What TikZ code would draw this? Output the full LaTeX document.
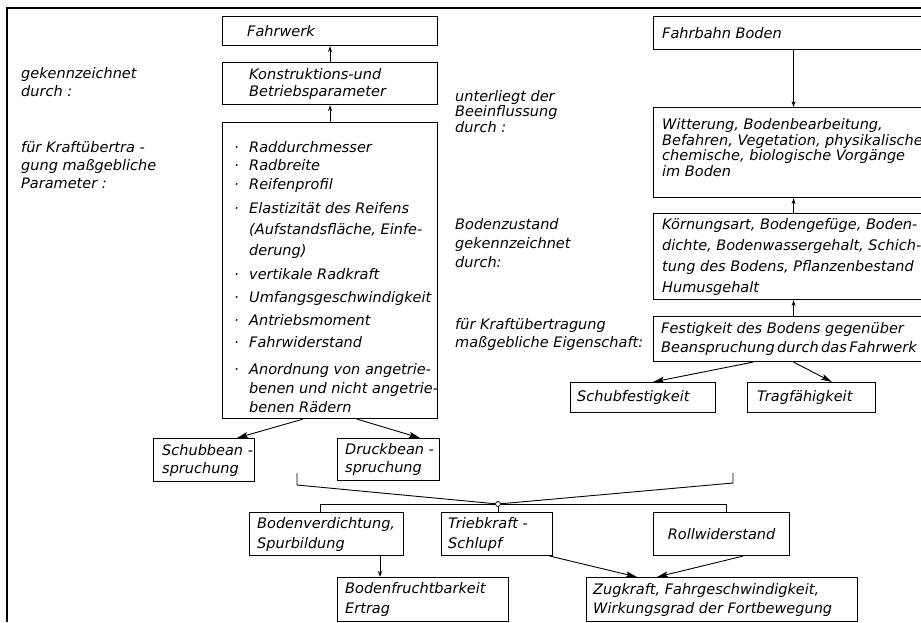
\documentclass[tikz,border=0pt]{standalone}
\usepackage{fontspec}
\setmainfont{DejaVu Sans}
\usetikzlibrary{arrows.meta,calc}
\newcommand{\schrift}[1]{\fontsize{14.5}{#1}\selectfont\itshape}
\newcommand{\pkt}{\makebox[15pt][l]{\textperiodcentered}}
\newcommand{\einr}{\hspace*{15pt}}

\begin{document}
\begin{tikzpicture}[x=1pt, y=-1pt,
  kasten/.style={draw, line width=1.1pt, inner sep=0pt, anchor=north west},
  txt/.style={font=\schrift{#1}, align=left, inner sep=0pt},
  txt/.default=17,
  linie/.style={line width=0.9pt},
  pfeil/.style={line width=0.9pt, -{Stealth[length=6pt,width=4pt]}},
  schraeg/.style={line width=0.9pt, -{Stealth[length=11pt,width=6pt,inset=2pt]}},
  knoten/.style={circle, draw, fill=white, line width=0.8pt, inner sep=0pt, minimum size=5pt},
]
\useasboundingbox (0,0) rectangle (921,622);
\clip (0,0) rectangle (921,622);
% frame (scan edge)
\draw[line width=1.6pt] (7,622) -- (7,8) -- (921,8);

% left column: Fahrwerk
\node[kasten, minimum width=215pt, minimum height=29pt] (fw) at (222,16) {};
\node[kasten, minimum width=215pt, minimum height=42pt] (kb) at (222,62) {};
\node[kasten, minimum width=215pt, minimum height=296pt] (par) at (222,122) {};
\node[txt, anchor=west] (fw-t) at ([xshift=25pt]fw.west) {Fahrwerk};
\node[txt, anchor=west] (kb-t) at ([xshift=27pt]kb.west) {Konstruktions-und\\Betriebsparameter};
\node[txt=19, anchor=north west] (par-t) at (234,141) {%
  \pkt Raddurchmesser\\[-1pt]
  \pkt Radbreite\\
  \pkt Reifenprofil\\[5pt]
  \pkt Elastizität des Reifens\\[2pt]
  \einr (Aufstandsfläche, Einfe-\\[2pt]
  \einr derung)\\[5pt]
  \pkt vertikale Radkraft\\[4pt]
  \pkt Umfangsgeschwindigkeit\\[4pt]
  \pkt Antriebsmoment\\[3pt]
  \pkt Fahrwiderstand\\[8pt]
  \pkt Anordnung von angetrie-\\
  \einr benen und nicht angetrie-\\
  \einr benen Rädern};

\node[txt=18, anchor=north west] (gek) at (21,67) {gekennzeichnet\\durch :};
\node[txt=18, anchor=north west] (fuerK) at (21,141) {für Kraftübertra -\\gung maßgebliche\\Parameter :};

% right column: Fahrbahn
\node[kasten, minimum width=280pt, minimum height=33pt] (fb) at (653,16) {};
\node[kasten, minimum width=280pt, minimum height=90pt] (wit) at (653,107) {};
\node[kasten, minimum width=280pt, minimum height=86pt] (koer) at (653,213) {};
\node[kasten, minimum width=280pt, minimum height=45pt] (fest) at (653,316) {};
\node[kasten, minimum width=145pt, minimum height=30pt] (schubf) at (570,382) {};
\node[kasten, minimum width=128pt, minimum height=30pt] (trag) at (747,382) {};
\node[txt, anchor=west] (fb-t) at ([xshift=9pt]fb.west) {Fahrbahn Boden};
\node[txt=15.5, anchor=west] (wit-t) at ([xshift=9pt,yshift=5pt]wit.west) {Witterung, Bodenbearbeitung,\\Befahren, Vegetation, physikalische\\chemische, biologische Vorgänge\\im Boden};
\node[txt=21, anchor=west] (koer-t) at ([xshift=9pt]koer.west) {Körnungsart, Bodengefüge, Boden-\\dichte, Bodenwassergehalt, Schich-\\tung des Bodens, Pflanzenbestand\\Humusgehalt};
\node[txt=19, anchor=west] (fest-t) at ([xshift=8pt]fest.west) {Festigkeit des Bodens gegenüber\\Beanspruchung\,durch\,das\,Fahrwerk};
\node[txt, anchor=west] (schubf-t) at ([xshift=7pt]schubf.west) {Schubfestigkeit};
\node[txt, anchor=west] (trag-t) at ([xshift=10pt]trag.west) {Tragfähigkeit};

\node[txt=15.5, anchor=north west] (unter) at (455,90) {unterliegt der\\Beeinflussung\\durch :};
\node[txt=19, anchor=north west] (bzust) at (455,218) {Bodenzustand\\gekennzeichnet\\durch:};
\node[txt=18, anchor=north west] (fuerE) at (455,318) {für Kraftübertragung\\maßgebliche Eigenschaft:};

% Beanspruchung
\node[kasten, minimum width=101pt, minimum height=43pt] (schubb) at (153,438) {};
\node[kasten, minimum width=102pt, minimum height=42pt] (druck) at (337,438) {};
\node[txt=18, anchor=west] (schubb-t) at ([xshift=9pt]schubb.west) {Schubbean -\\spruchung};
\node[txt=18, anchor=west] (druck-t) at ([xshift=8pt]druck.west) {Druckbean -\\spruchung};

% Folgen
\node[kasten, minimum width=154pt, minimum height=43pt] (verd) at (249,512) {};
\node[kasten, minimum width=111pt, minimum height=43pt] (trieb) at (441,512) {};
\node[kasten, minimum width=136pt, minimum height=43pt] (roll) at (653,512) {};
\node[kasten, minimum width=171pt, minimum height=44pt] (frucht) at (337,577) {};
\node[kasten, minimum width=271pt, minimum height=44pt] (zug) at (586,577) {};
\node[txt=20, anchor=west] (verd-t) at ([xshift=8pt]verd.west) {Bodenverdichtung,\\Spurbildung};
\node[txt=20, anchor=west] (trieb-t) at ([xshift=7pt]trieb.west) {Triebkraft -\\Schlupf};
\node[txt] (roll-t) at (roll.center) {Rollwiderstand};
\node[txt=20, anchor=west] (frucht-t) at ([xshift=8pt]frucht.west) {Bodenfruchtbarkeit\\Ertrag};
\node[txt=19, anchor=west] (zug-t) at ([xshift=7pt]zug.west) {Zugkraft, Fahrgeschwindigkeit,\\Wirkungsgrad der Fortbewegung};

% connectors
\draw[pfeil] (kb.north) -- (fw.south);
\draw[pfeil] (par.north) -- (kb.south);
\draw[pfeil] (fb.south) -- (wit.north);
\draw[pfeil] (koer.north) -- (wit.south);
\draw[pfeil] (fest.north) -- (koer.south);
\draw[schraeg] ($(fest.south west)+(100,0)$) -- ($(schubf.north west)+(83,0)$);
\draw[schraeg] (fest.south) -- ($(trag.north west)+(85,0)$);
\draw[schraeg] ($(par.south west)+(81,0)$) -- ($(schubb.north west)+(84,0)$);
\draw[schraeg] ($(par.south west)+(135,0)$) -- ($(druck.north west)+(83,0)$);

\node[knoten] (knot) at (498,504) {};
\coordinate (li) at (297,473);
\coordinate (re) at (733,473);
\draw[linie] (li) -- ++(0,12) -- (knot);
\draw[linie] (re) -- ++(0,10) -- (knot);
\draw[linie] ($(verd.north west)+(71,0)$) |- (knot.west);
\draw[linie] (knot.east) -| ($(roll.north west)+(73,0)$);
\draw[linie] (knot.south) -- (knot.south |- trieb.north);

\draw[pfeil] ($(verd.south west)+(131,0)$) coordinate (vf) -- (vf |- frucht.north);
\draw[schraeg] ($(trieb.south west)+(109,0)$) -- ($(zug.north west)+(51,0)$);
\draw[schraeg] ($(roll.south west)+(90,0)$) -- ($(zug.north west)+(71,0)$);
\end{tikzpicture}
\end{document}
